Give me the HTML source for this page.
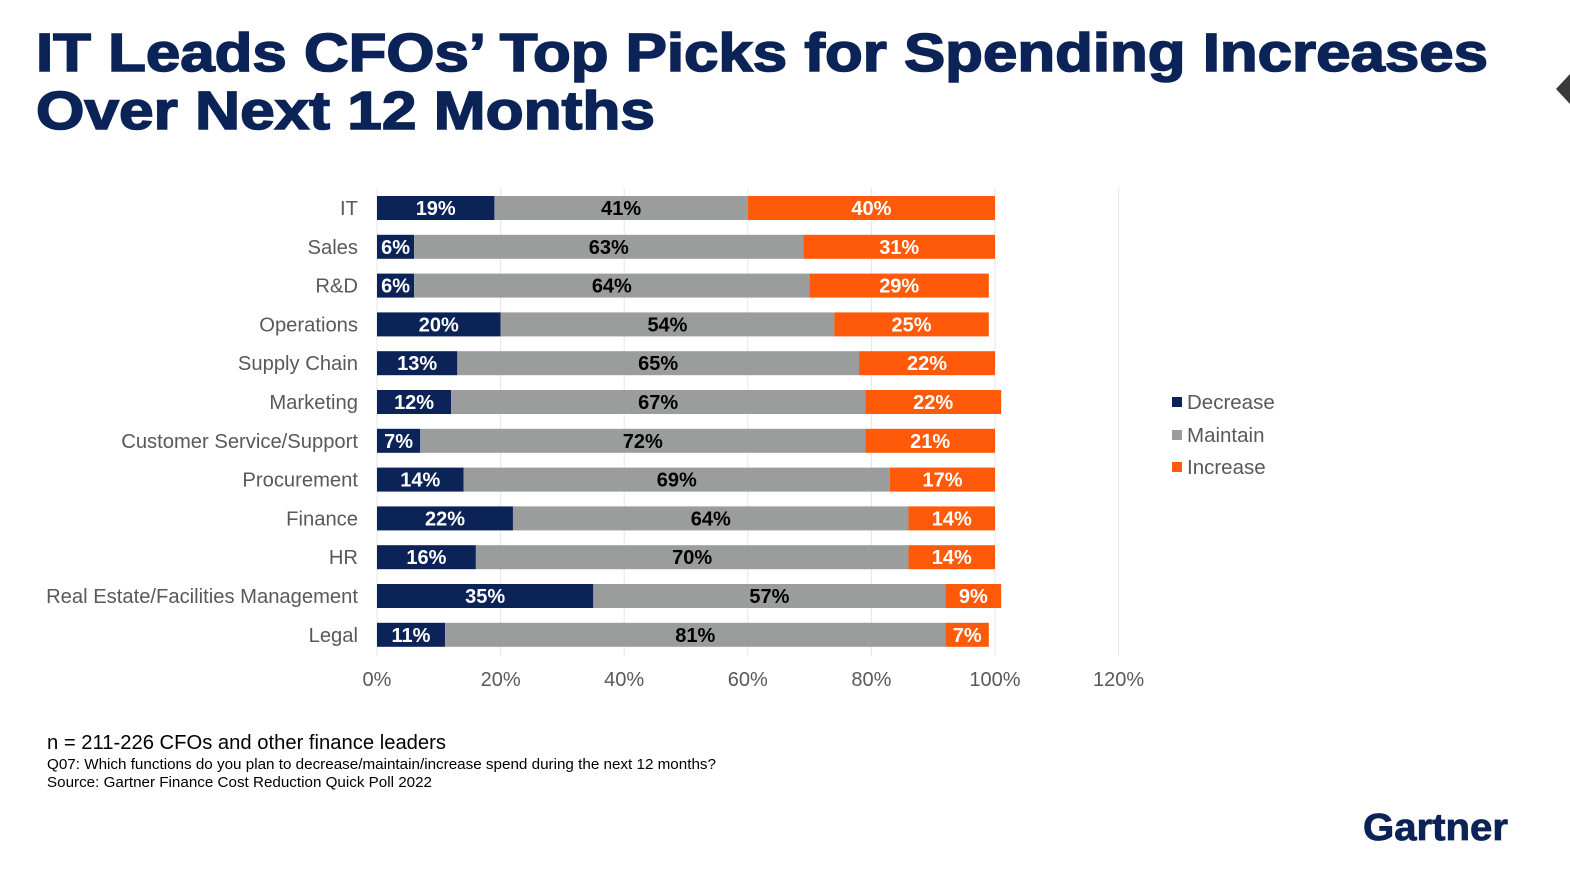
<!DOCTYPE html>
<html><head><meta charset="utf-8"><style>
html,body{margin:0;padding:0;background:#fff;}
svg{display:block;font-family:"Liberation Sans",Arial,sans-serif;}
</style></head><body>
<svg id="chart" width="1570" height="884" viewBox="0 0 1570 884">
<text x="36" y="71" font-size="54" font-weight="bold" fill="#0b2357" stroke="#0b2357" stroke-width="1.6" textLength="1452" lengthAdjust="spacingAndGlyphs">IT Leads CFOs’ Top Picks for Spending Increases</text>
<text x="36" y="129" font-size="54" font-weight="bold" fill="#0b2357" stroke="#0b2357" stroke-width="1.6" textLength="619" lengthAdjust="spacingAndGlyphs">Over Next 12 Months</text>
<polygon points="1570,74 1556,89 1570,104" fill="#3a3a3a"/>
<g id="grid"></g>
<g id="bars"></g>
<g id="ylabels"></g>
<g id="xlabels"></g>
<g>
<rect x="1172" y="397" width="10" height="10" fill="#0b2357"/>
<text x="1187" y="409" font-size="20.5" fill="#595959">Decrease</text>
<rect x="1172" y="430" width="10" height="10" fill="#9b9d9d"/>
<text x="1187" y="442" font-size="20.5" fill="#595959">Maintain</text>
<rect x="1172" y="462" width="10" height="10" fill="#ff5a0a"/>
<text x="1187" y="474" font-size="20.5" fill="#595959">Increase</text>
</g>
<text x="47" y="749" font-size="20" fill="#000" textLength="399" lengthAdjust="spacingAndGlyphs">n = 211-226 CFOs and other finance leaders</text>
<text x="47" y="769" font-size="15" fill="#000" textLength="669" lengthAdjust="spacingAndGlyphs">Q07: Which functions do you plan to decrease/maintain/increase spend during the next 12 months?</text>
<text x="47" y="787" font-size="15" fill="#000" textLength="385" lengthAdjust="spacingAndGlyphs">Source: Gartner Finance Cost Reduction Quick Poll 2022</text>
<text x="1363" y="840" font-size="38" font-weight="bold" fill="#0b2357" stroke="#0b2357" stroke-width="0.8" textLength="145" lengthAdjust="spacingAndGlyphs">Gartner</text>
</svg>
<script>
const categories=["IT","Sales","R&D","Operations","Supply Chain","Marketing","Customer Service/Support","Procurement","Finance","HR","Real Estate/Facilities Management","Legal"];
const decrease=[19,6,6,20,13,12,7,14,22,16,35,11];
const maintain=[41,63,64,54,65,67,72,69,64,70,57,81];
const increase=[40,31,29,25,22,22,21,17,14,14,9,7];
const xTicks=[0,20,40,60,80,100,120];
const NS="http://www.w3.org/2000/svg";
const x0=377,pxPer=6.18,yTop=208,step=38.8,barH=24;
const xs=v=>x0+v*pxPer;
const ys=i=>yTop+i*step;
function mk(tag,attrs,parent){const e=document.createElementNS(NS,tag);for(const k in attrs)e.setAttribute(k,attrs[k]);parent.appendChild(e);return e;}
const grid=document.getElementById('grid'),bars=document.getElementById('bars'),yl=document.getElementById('ylabels'),xl=document.getElementById('xlabels');
xTicks.forEach(t=>{
  const l=mk('line',{x1:xs(t),x2:xs(t),y1:188,y2:656,stroke:'#e6e6e6','stroke-width':1},grid);
  
  
  const tx=mk('text',{x:xs(t),y:686,'font-size':20,fill:'#595959','text-anchor':'middle'},xl);
  tx.textContent=t+'%';
  
  
});
const series=[["decrease",decrease,"#0b2357","#fff"],["maintain",maintain,"#9b9d9d","#000"],["increase",increase,"#ff5a0a","#fff"]];
categories.forEach((c,i)=>{
  const cy=ys(i);
  const lab=mk('text',{x:358,y:cy+7,'font-size':20.2,fill:'#595959','text-anchor':'end'},yl);
  lab.textContent=c;
  
  
  let acc=0;
  series.forEach(([name,arr,col,tc])=>{
    const v=arr[i];
    const r=mk('rect',{x:xs(acc),y:cy-barH/2,width:v*pxPer,height:barH,fill:col},bars);
    
    
    const t=mk('text',{x:xs(acc+v/2),y:cy+7,'font-size':20,'font-weight':'bold',fill:tc,'text-anchor':'middle'},bars);
    t.textContent=v+'%';
    
    
    acc+=v;
  });
});
</script>
</body></html>
